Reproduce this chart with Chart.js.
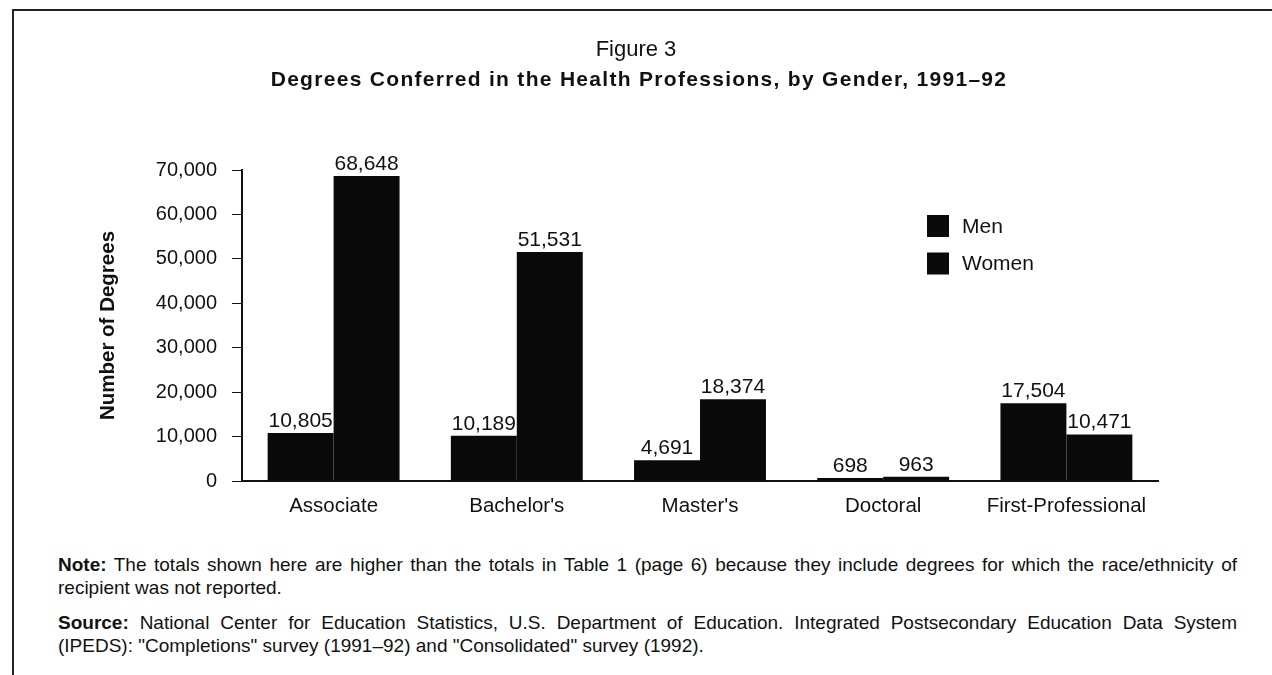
<!DOCTYPE html>
<html>
<head>
<meta charset="utf-8">
<script src="https://cdn.jsdelivr.net/npm/chart.js@4.4.1/dist/chart.umd.min.js"></script>
<style>
  html, body { margin: 0; padding: 0; background: #fff; }
  body { width: 1272px; height: 675px; position: relative; overflow: hidden; font-family: "Liberation Sans", Arial, sans-serif; color: #111; }
  #frame { position: absolute; left: 12px; top: 9px; width: 1280px; height: 700px; border-top: 2px solid #222; border-left: 2px solid #222; }
  #wrap { position: absolute; left: 0; top: 0; width: 1272px; height: 530px; }
  #notes { position: absolute; left: 58px; top: 553px; width: 1179px; font-size: 19px; line-height: 23px; text-align: justify; }
  #notes p { margin: 0 0 12px 0; }
</style>
</head>
<body>
<div id="frame"></div>
<div id="wrap"><canvas id="c" width="1272" height="530"></canvas></div>
<div id="notes">
  <p><b>Note:</b> The totals shown here are higher than the totals in Table 1 (page 6) because they include degrees for which the race/ethnicity of recipient was not reported.</p>
  <p><b>Source:</b> National Center for Education Statistics, U.S. Department of Education. Integrated Postsecondary Education Data System (IPEDS): "Completions" survey (1991&ndash;92) and "Consolidated" survey (1992).</p>
</div>
<script>
const categories = ["Associate", "Bachelor's", "Master's", "Doctoral", "First-Professional"];
const seriesNames = ["Men", "Women"];
const menValues = [10805, 10189, 4691, 698, 17504];
const womenValues = [68648, 51531, 18374, 963, 10471];
const yTicks = [0, 10000, 20000, 30000, 40000, 50000, 60000, 70000];
const titleText = 'Figure 3';
const subtitleText = 'Degrees Conferred in the Health Professions, by Gender, 1991\u201392';

const FONT = '"Liberation Sans", Arial, sans-serif';
const fmt = v => v.toLocaleString('en-US');

const titles = {
  id: 'titles',
  afterDraw(chart) {
    const ctx = chart.ctx;
    ctx.save();
    ctx.fillStyle = '#111';
    ctx.textAlign = 'center';
    ctx.textBaseline = 'middle';
    ctx.font = '22px ' + FONT;
    ctx.letterSpacing = '0px';
    ctx.fillText(titleText, 636, 50);
    ctx.font = 'bold 21px ' + FONT;
    ctx.letterSpacing = '1.3px';
    ctx.fillText(subtitleText, 639, 80);
    ctx.letterSpacing = '0px';
    ctx.restore();
  }
};

const valueLabels = {
  id: 'valueLabels',
  afterDatasetsDraw(chart) {
    const ctx = chart.ctx;
    ctx.save();
    ctx.font = '21px ' + FONT;
    ctx.fillStyle = '#111';
    ctx.textAlign = 'center';
    ctx.textBaseline = 'alphabetic';
    chart.data.datasets.forEach((ds, i) => {
      const meta = chart.getDatasetMeta(i);
      meta.data.forEach((bar, j) => {
        ctx.fillText(fmt(ds.data[j]), bar.x, bar.y - 6);
      });
    });
    ctx.restore();
  }
};

const customLegend = {
  id: 'customLegend',
  afterDraw(chart) {
    const ctx = chart.ctx;
    ctx.save();
    ctx.font = '21px ' + FONT;
    ctx.textBaseline = 'middle';
    ctx.textAlign = 'left';
    chart.data.datasets.forEach((ds, i) => {
      const y = 226 + i * 37.5;
      ctx.fillStyle = ds.backgroundColor;
      ctx.fillRect(927, y - 11, 22, 22);
      ctx.fillStyle = '#111';
      ctx.fillText(ds.label, 962, y + 1);
    });
    ctx.restore();
  }
};

new Chart(document.getElementById('c'), {
  type: 'bar',
  data: {
    labels: categories,
    datasets: [
      { label: seriesNames[0], data: menValues, backgroundColor: '#0a0a0a' },
      { label: seriesNames[1], data: womenValues, backgroundColor: '#0a0a0a' }
    ]
  },
  options: {
    responsive: false,
    animation: false,
    devicePixelRatio: 1,
    layout: { padding: { left: 88, right: 114, top: 170, bottom: 0 } },
    datasets: { bar: { categoryPercentage: 0.72, barPercentage: 1.0 } },
    plugins: {
      legend: { display: false },
      tooltip: { enabled: false },
      title: { display: false },
      subtitle: { display: false }
    },
    scales: {
      x: {
        afterFit: s => { s.height = 49; },
        grid: { display: false },
        border: { display: true, color: '#111', width: 2 },
        ticks: { color: '#111', font: { family: FONT, size: 20.5 }, padding: 5 }
      },
      y: {
        min: 0, max: 70000,
        afterBuildTicks: s => { s.ticks = yTicks.map(v => ({ value: v })); },
        afterFit: s => { s.width = 154; },
        grid: { drawOnChartArea: false, tickLength: 10, color: '#111' },
        border: { display: true, color: '#111', width: 2 },
        ticks: { color: '#111', font: { family: FONT, size: 20 }, padding: 15, callback: v => fmt(v) },
        title: {
          display: true, text: 'Number of Degrees', color: '#111',
          font: { family: FONT, size: 20.5, weight: 'bold' }, padding: { top: 8, bottom: 0 }
        }
      }
    }
  },
  plugins: [valueLabels, customLegend, titles]
});
</script>
</body>
</html>
